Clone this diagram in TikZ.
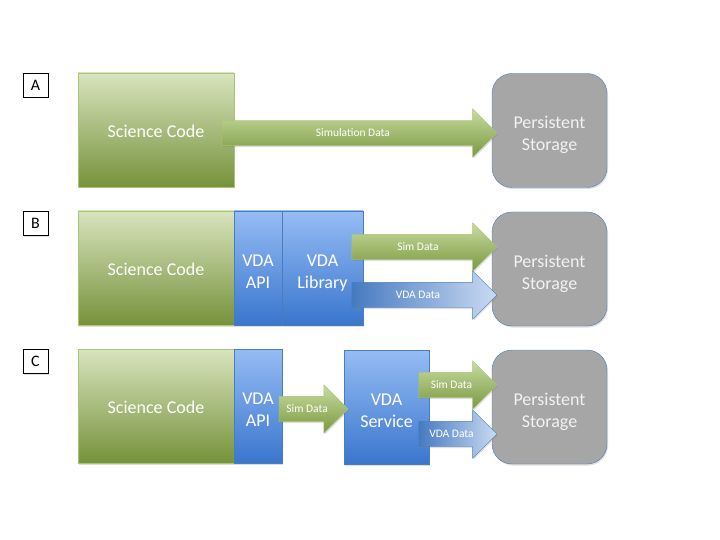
\documentclass[tikz,border=0pt]{standalone}
\usepackage{fontspec}
\setmainfont{Carlito}
\usetikzlibrary{positioning}
\usetikzlibrary{shapes.arrows}
\usetikzlibrary{shadows}

\definecolor{scitop}{RGB}{216,228,190}
\definecolor{scibot}{RGB}{118,146,60}
\definecolor{sciline}{RGB}{170,196,120}
\definecolor{vdatop}{RGB}{150,188,244}
\definecolor{vdabot}{RGB}{58,118,206}
\definecolor{vdaline}{RGB}{74,126,187}
\definecolor{storefill}{RGB}{166,166,166}
\definecolor{arrtop}{RGB}{200,220,160}
\definecolor{arrbot}{RGB}{122,152,64}
\definecolor{vdaleft}{RGB}{70,122,192}
\definecolor{vdaright}{RGB}{202,218,242}

\begin{document}
\begin{tikzpicture}[x=1pt,y=-1pt,
    shadowed/.style={drop shadow={opacity=0.25,shadow xshift=1pt,shadow yshift=-1.5pt}},
    bigtext/.style={font=\fontsize{18}{21.5}\selectfont,text=white,align=center,text height=15.5pt,text depth=0pt},
    twoline/.style={text height=40pt,text depth=0pt},
    smalltext/.style={font=\fontsize{11.5}{13}\selectfont,text=white},
    panel/.style={draw=black,fill=white,minimum width=25pt,minimum height=24pt,inner sep=0pt,
                  font=\fontsize{16}{18}\selectfont,shadowed},
    scibox/.style={draw=sciline,top color=scitop,bottom color=scibot,minimum width=156pt,
                   minimum height=114pt,outer sep=0pt,bigtext,shadowed},
    vdabox/.style={draw=vdaline,top color=vdatop,bottom color=vdabot,minimum height=114pt,
                   outer sep=0pt,inner sep=0pt,bigtext,twoline,shadowed},
    storebox/.style={draw=vdaline,fill=storefill,rounded corners=20pt,minimum width=115pt,
                     minimum height=114pt,bigtext,twoline,text=white!95!black,shadowed},
    blockarrow/.style={single arrow,single arrow head extend=11.5pt,inner xsep=0pt,inner ysep=8pt,
                       text height=8pt,text depth=1pt,outer sep=0pt,smalltext,shadowed},
    simarrow/.style={blockarrow,draw=sciline,top color=arrtop,bottom color=arrbot},
    vdaarrow/.style={blockarrow,draw=vdaline,left color=vdaleft,right color=vdaright}]

    \useasboundingbox (0,0) rectangle (720,540);

    % panel A
    \node[panel] (labA) at (35.5,85) {A};
    \node[scibox] (sciA) at (156,130) {Science Code};
    \node[storebox] (storeA) at (549.5,130.5) {Persistent\\Storage};
    \node[simarrow,minimum height=275pt,anchor=tip] (simA) at ([xshift=5pt,yshift=-2.5pt]storeA.west) {Simulation Data};

    % panel B
    \node[panel] (labB) at (35.5,223) {B};
    \node[scibox] (sciB) at (156,268) {Science Code};
    \node[vdabox,minimum width=48pt,right=0pt of sciB] (apiB) {VDA\\API};
    \node[vdabox,minimum width=81pt,right=0pt of apiB] (libB) {VDA\\Library};
    \node[storebox] (storeB) at (549.5,269) {Persistent\\Storage};
    \node[simarrow,minimum height=145pt,anchor=tip] (simB) at ([xshift=5pt,yshift=22pt]storeB.west) {Sim Data};
    \node[vdaarrow,minimum height=145pt,anchor=tip] (dataB) at ([xshift=5pt,yshift=-26pt]storeB.west) {VDA Data};

    % panel C
    \node[panel] (labC) at (35.5,361) {C};
    \node[scibox] (sciC) at (156,406) {Science Code};
    \node[vdabox,minimum width=48pt,right=0pt of sciC] (apiC) {VDA\\API};
    \node[vdabox,minimum width=85pt] (servC) at (386.5,407) {VDA\\Service};
    \node[storebox] (storeC) at (549.5,407) {Persistent\\Storage};
    \node[simarrow,minimum height=69pt,anchor=tip] (simC) at ([xshift=4pt,yshift=-2pt]servC.west) {Sim Data};
    \node[simarrow,minimum height=78pt,anchor=tip] (simCC) at ([xshift=5pt,yshift=22pt]storeC.west) {Sim Data};
    \node[vdaarrow,minimum height=78pt,anchor=tip] (dataC) at ([xshift=5pt,yshift=-27pt]storeC.west) {VDA Data};

\end{tikzpicture}
\end{document}
